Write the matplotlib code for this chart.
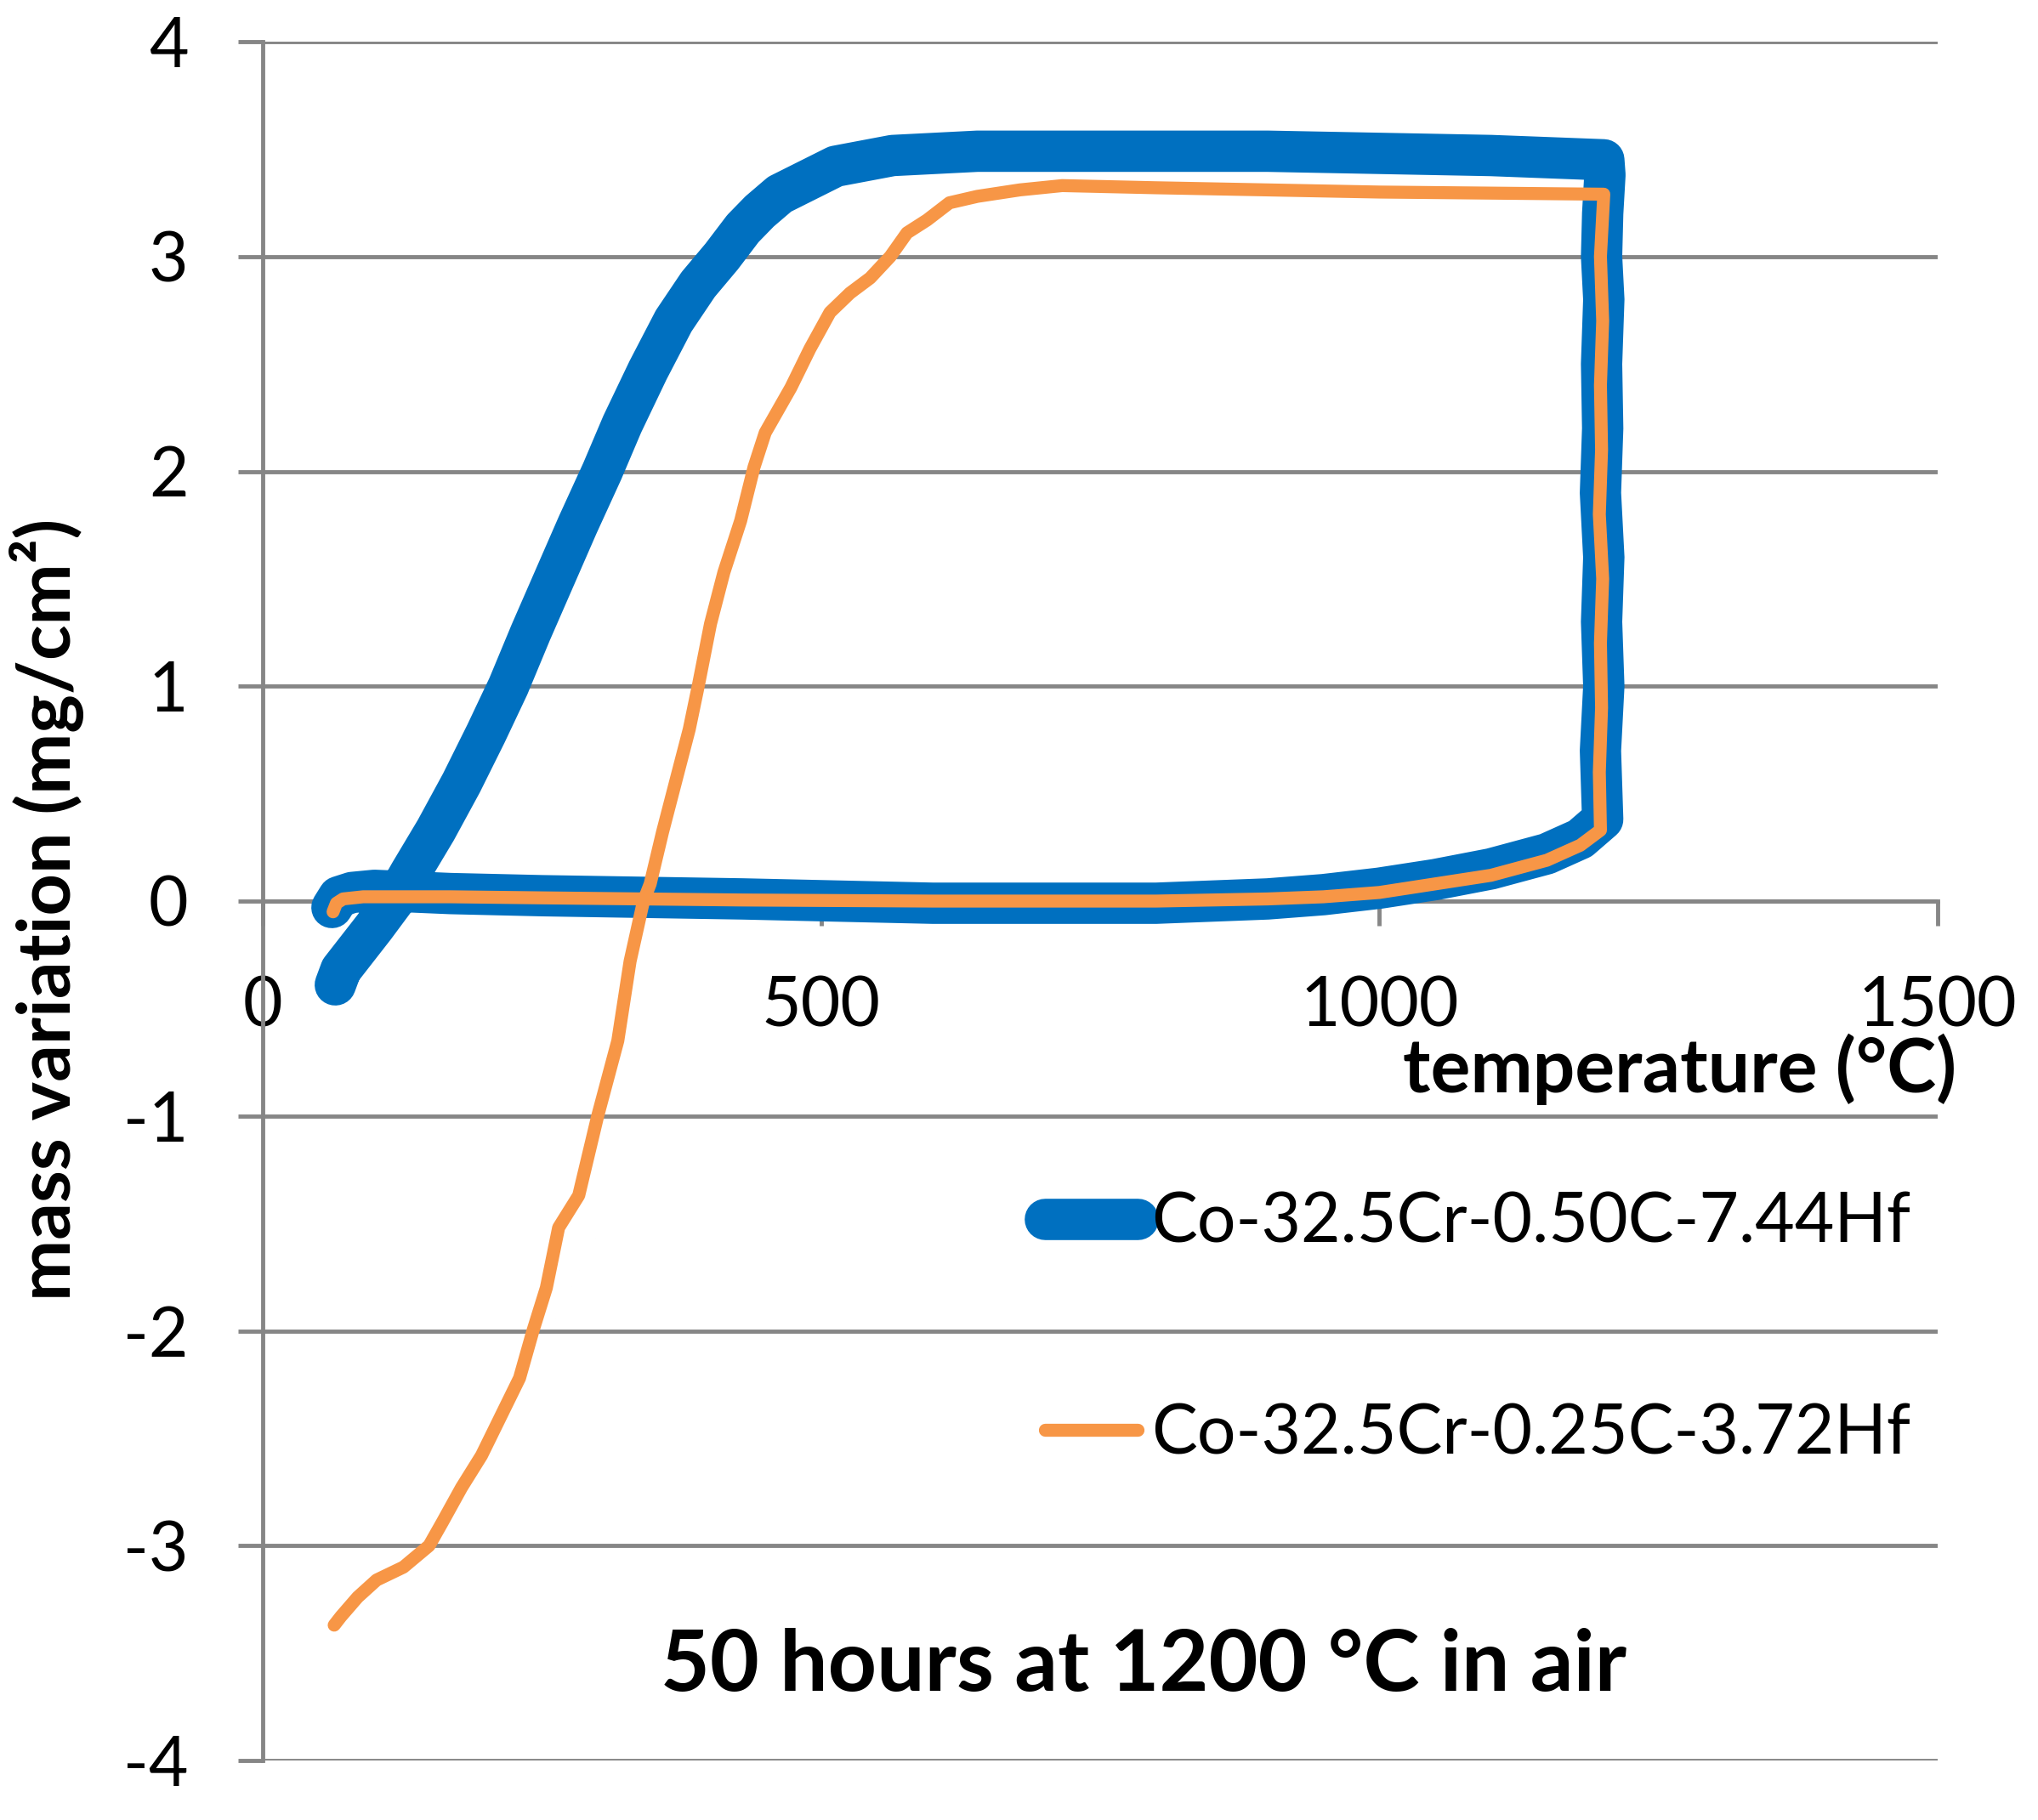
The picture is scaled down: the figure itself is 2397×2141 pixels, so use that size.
import numpy as np
import matplotlib
matplotlib.use('Agg')
import matplotlib.pyplot as plt

plt.rcParams['font.family'] = ['Lato', 'DejaVu Sans']
plt.rcParams['axes.unicode_minus'] = False

# Co-32.5Cr-0.50C-7.44Hf : heating, isothermal (1200 °C), cooling
blue_T_heat = [62, 68, 80, 100, 168, 250, 430, 600, 800, 900, 950, 1000, 1050, 1100, 1150, 1180, 1200]
blue_m_heat = [-0.03, 0.02, 0.04, 0.05, 0.035, 0.025, 0.01, -0.01, -0.01, 0.01, 0.03, 0.06, 0.10, 0.15, 0.22, 0.29, 0.38]
blue_T_iso = [1200, 1198, 1201, 1199, 1201, 1198, 1200, 1199, 1201, 1199, 1200, 1202, 1201]
blue_m_iso = [0.38, 0.7, 1.0, 1.3, 1.6, 1.9, 2.2, 2.5, 2.8, 3.0, 3.2, 3.38, 3.45]
blue_T_cool = [1201, 1100, 1000, 900, 800, 716, 640, 564, 513, 463, 445, 430, 411, 390, 368, 345, 322, 304,
               282, 261, 240, 220, 200, 178, 155, 132, 120, 100, 85, 70, 65]
blue_m_cool = [3.45, 3.47, 3.48, 3.49, 3.49, 3.49, 3.49, 3.47, 3.42, 3.29, 3.21, 3.13, 3.00, 2.87, 2.70, 2.47, 2.22, 2.00,
               1.75, 1.50, 1.25, 1.00, 0.78, 0.55, 0.33, 0.13, 0.02, -0.12, -0.22, -0.32, -0.39]

# Co-32.5Cr-0.25C-3.72Hf
orange_T_heat = [63, 66, 72, 90, 168, 250, 430, 600, 800, 900, 950, 1000, 1050, 1100, 1150, 1180, 1198]
orange_m_heat = [-0.05, -0.01, 0.01, 0.02, 0.02, 0.015, 0.005, 0.0, 0.0, 0.01, 0.02, 0.04, 0.08, 0.12, 0.19, 0.26, 0.33]
orange_T_iso = [1198, 1197, 1199, 1198, 1200, 1197, 1199, 1198, 1200, 1198, 1201]
orange_m_iso = [0.33, 0.6, 0.9, 1.2, 1.5, 1.8, 2.1, 2.4, 2.7, 3.0, 3.29]
orange_T_cool = [1201, 1000, 800, 716, 678, 640, 615, 595, 577, 562, 544, 526, 508, 490, 473, 450, 440,
                 428, 413, 401, 390, 382, 370, 358, 347, 341, 329, 318, 300, 283, 265, 254, 242, 230, 213,
                 196, 178, 161, 149, 126, 102, 85, 70, 64]
orange_m_cool = [3.29, 3.30, 3.32, 3.33, 3.31, 3.28, 3.25, 3.17, 3.11, 3.00, 2.90, 2.83, 2.74, 2.57, 2.39, 2.18, 2.02,
                 1.77, 1.53, 1.29, 1.00, 0.80, 0.56, 0.32, 0.08, 0.00, -0.28, -0.65, -1.00, -1.37, -1.52, -1.80, -2.00, -2.22, -2.40,
                 -2.58, -2.73, -2.89, -3.00, -3.10, -3.16, -3.24, -3.33, -3.37]

labels = ['Co-32.5Cr-0.50C-7.44Hf', 'Co-32.5Cr-0.25C-3.72Hf']

blue_T = blue_T_heat + blue_T_iso + blue_T_cool
blue_m = blue_m_heat + blue_m_iso + blue_m_cool
orange_T = orange_T_heat + orange_T_iso + orange_T_cool
orange_m = orange_m_heat + orange_m_iso + orange_m_cool

W, H = 2397, 2141
fig = plt.figure(figsize=(W / 100, H / 100), dpi=100)
ax = fig.add_axes([309 / W, 1 - 2071 / H, 1970 / W, 2022 / H])

gray = '#868686'
ax.plot(blue_T, blue_m, color='#0070C0', lw=35, solid_capstyle='round', solid_joinstyle='round',
        label=labels[0], zorder=3)
ax.plot(orange_T, orange_m, color='#F79646', lw=11, solid_capstyle='round', solid_joinstyle='round',
        label=labels[1], zorder=4)

ax.set_xlim(0, 1500)
ax.set_ylim(-4, 4)
ax.set_xticks([0, 500, 1000, 1500])
ax.set_yticks(range(-4, 5))

for s in ['top', 'right']:
    ax.spines[s].set_visible(False)
ax.spines['bottom'].set_position(('data', 0))
for s in ['left', 'bottom']:
    ax.spines[s].set_color(gray)
    ax.spines[s].set_linewidth(3.5)

ax.yaxis.grid(True, color=gray, lw=3.5)
ax.set_axisbelow(True)
ax.tick_params(axis='both', direction='out', length=21, width=3.5, color=gray,
               labelsize=58, pad=42)

leg = ax.legend(loc='upper left', bbox_to_anchor=(0.467, 0.331), frameon=False,
                fontsize=58, handlelength=1.35, handletextpad=0.2, labelspacing=2.17,
                borderaxespad=0, borderpad=0)

ax.text(1.011, 0.402, 'temperature (°C)', transform=ax.transAxes, ha='right', va='center',
        fontsize=63, fontweight='bold')
fig.text(55 / W, 1 - 1070 / H, 'mass variation (mg/cm²)', rotation=90, ha='center', va='center',
         fontsize=62, fontweight='bold')
fig.text(1345 / W, 1 - 1960 / H, '50 hours at 1200 °C in air', ha='center', va='center',
         fontsize=72, fontweight='bold')

fig.savefig('out.png', dpi=100)
